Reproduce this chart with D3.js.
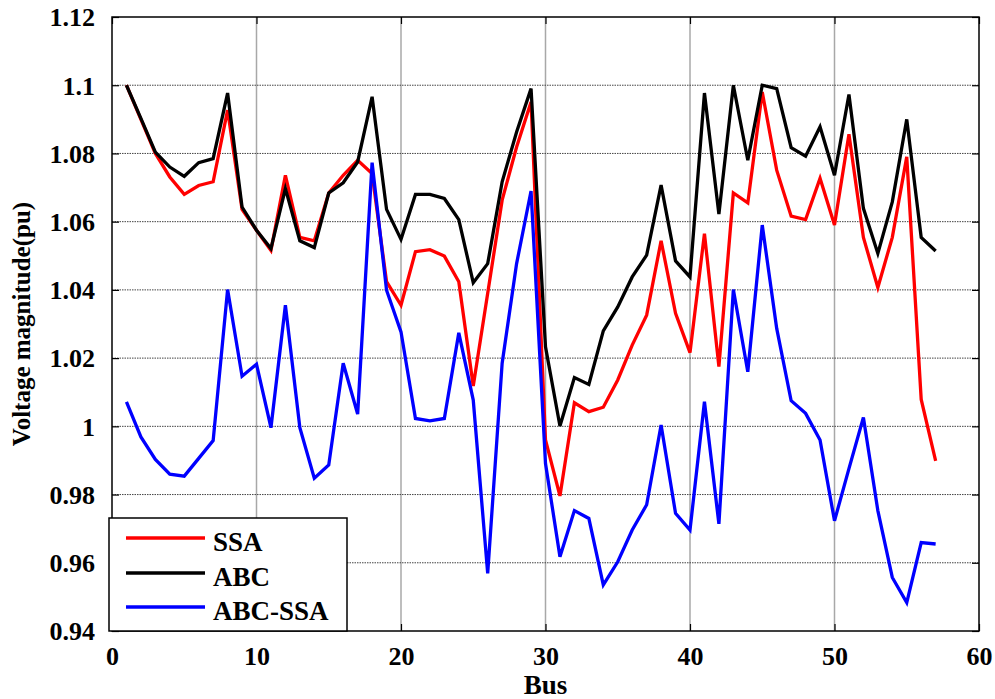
<!DOCTYPE html>
<html>
<head>
<meta charset="utf-8">
<script src="https://cdn.jsdelivr.net/npm/d3@7"></script>
<style>
  html, body { margin: 0; padding: 0; background: #fff; }
  svg { display: block; }
  text { font-family: "Liberation Serif", "Times New Roman", serif; font-weight: bold; fill: #000; }
</style>
</head>
<body>
<svg id="chart" width="995" height="699"></svg>
<script>
const buses = d3.range(1, 58);
const ssa = [1.1000,1.0900,1.0800,1.0731,1.0680,1.0706,1.0717,1.0927,1.0636,1.0575,
  1.0516,1.0736,1.0554,1.0544,1.0684,1.0736,1.0780,1.0741,1.0424,1.0355,
  1.0512,1.0518,1.0499,1.0424,1.0118,1.0390,1.0663,1.0819,1.0951,0.9960,
  0.9796,1.0069,1.0043,1.0056,1.0136,1.0238,1.0326,1.0544,1.0331,1.0216,
  1.0565,1.0175,1.0684,1.0655,1.0980,1.0751,1.0616,1.0606,1.0727,1.0590,
  1.0856,1.0554,1.0407,1.0554,1.0790,1.0079,0.9899];
const abc = [1.1000,1.0903,1.0804,1.0760,1.0733,1.0773,1.0785,1.0977,1.0643,1.0575,
  1.0521,1.0697,1.0544,1.0524,1.0684,1.0714,1.0775,1.0966,1.0636,1.0548,
  1.0680,1.0680,1.0668,1.0606,1.0421,1.0477,1.0717,1.0863,1.0990,1.0233,
  1.0001,1.0143,1.0123,1.0280,1.0350,1.0438,1.0502,1.0707,1.0485,1.0438,
  1.0977,1.0622,1.1000,1.0780,1.1000,1.0990,1.0817,1.0792,1.0878,1.0736,
  1.0973,1.0639,1.0507,1.0658,1.0900,1.0554,1.0514];
const abcSsa = [1.0072,0.9969,0.9903,0.9860,0.9854,0.9906,0.9958,1.0401,1.0147,1.0182,
  0.9996,1.0355,0.9996,0.9848,0.9887,1.0185,1.0036,1.0773,1.0399,1.0277,
  1.0023,1.0016,1.0023,1.0274,1.0077,0.9569,1.0185,1.0477,1.0690,0.9891,
  0.9618,0.9753,0.9730,0.9535,0.9603,0.9696,0.9770,1.0004,0.9745,0.9696,
  1.0072,0.9714,1.0401,1.0160,1.0590,1.0287,1.0075,1.0038,0.9960,0.9723,
  0.9876,1.0026,0.9753,0.9557,0.9483,0.9659,0.9655];
const seriesNames = ["SSA", "ABC", "ABC-SSA"];
const seriesColors = ["#ff0000", "#000000", "#0000ff"];
const xTicks = [0, 10, 20, 30, 40, 50, 60];
const yTicks = [0.94, 0.96, 0.98, 1.00, 1.02, 1.04, 1.06, 1.08, 1.10, 1.12];
const yTickLabels = ["0.94", "0.96", "0.98", "1", "1.02", "1.04", "1.06", "1.08", "1.1", "1.12"];
const xTitle = "Bus";
const yTitle = "Voltage magnitude(pu)";

const L = 112, R = 979, T = 17, B = 631;
const svg = d3.select("#chart");
const x = d3.scaleLinear().domain([0, 60]).range([L, R]);
const y = d3.scaleLinear().domain([0.94, 1.12]).range([B, T]);

// grid
const g = svg.append("g");
g.selectAll("line.vg").data(xTicks.slice(1, -1)).enter().append("line")
  .attr("x1", d => x(d)).attr("x2", d => x(d)).attr("y1", T).attr("y2", B)
  .attr("stroke", "#a8a8a8").attr("stroke-width", 1.5);
g.selectAll("line.hg").data(yTicks.slice(1, -1)).enter().append("line")
  .attr("x1", L).attr("x2", R).attr("y1", d => y(d)).attr("y2", d => y(d))
  .attr("stroke", "#444").attr("stroke-width", 1).attr("stroke-dasharray", "1.5,1");

// axes with inward ticks
const fmtY = d => yTickLabels[yTicks.findIndex(t => Math.abs(t - d) < 1e-9)];
const axL = svg.append("g").attr("transform", `translate(${L},0)`)
  .call(d3.axisLeft(y).tickValues(yTicks).tickFormat(fmtY).tickSizeInner(-7).tickSizeOuter(0).tickPadding(17));
const axR = svg.append("g").attr("transform", `translate(${R},0)`)
  .call(d3.axisRight(y).tickValues(yTicks).tickFormat("").tickSizeInner(-7).tickSizeOuter(0));
const axB = svg.append("g").attr("transform", `translate(0,${B})`)
  .call(d3.axisBottom(x).tickValues(xTicks).tickFormat(d3.format("d")).tickSizeInner(-7).tickSizeOuter(0).tickPadding(16));
const axT = svg.append("g").attr("transform", `translate(0,${T})`)
  .call(d3.axisTop(x).tickValues(xTicks).tickFormat("").tickSizeInner(-7).tickSizeOuter(0));
[axL, axR, axB, axT].forEach(a => {
  a.select(".domain").remove();
  a.selectAll(".tick line").attr("stroke", "#000").attr("stroke-width", 1.2);
  a.selectAll("text").attr("font-family", "Liberation Serif, serif").attr("font-weight", "bold")
    .attr("font-size", 26).attr("fill", "#000");
});
axL.selectAll("text").attr("dy", "0.34em");
axB.selectAll("text").attr("dy", "0.71em");

// lines
const seriesData = [ssa, abc, abcSsa];
const line = d3.line().x((d, i) => x(buses[i])).y(d => y(d));
seriesData.forEach((s, k) => {
  svg.append("path").datum(s).attr("d", line)
    .attr("fill", "none").attr("stroke", seriesColors[k]).attr("stroke-width", 3.3)
    .attr("stroke-linejoin", "miter").attr("stroke-miterlimit", 4);
});

// frame
svg.append("rect").attr("x", L).attr("y", T).attr("width", R - L).attr("height", B - T)
  .attr("fill", "none").attr("stroke", "#000").attr("stroke-width", 1.5);

// axis titles
svg.append("text").attr("x", (L + R) / 2).attr("y", 694).attr("text-anchor", "middle")
  .attr("font-size", 27).text(xTitle);
svg.append("text").attr("transform", `translate(29.5,${(T + B) / 2}) rotate(-90)`)
  .attr("text-anchor", "middle").attr("font-size", 25).text(yTitle);

// legend
const lg = svg.append("g");
lg.append("rect").attr("x", 109).attr("y", 518).attr("width", 238).attr("height", 113)
  .attr("fill", "#fff").attr("stroke", "#000").attr("stroke-width", 1.5);
const legY = [538, 573, 607];
seriesNames.forEach((n, i) => {
  lg.append("line").attr("x1", 126).attr("x2", 205).attr("y1", legY[i]).attr("y2", legY[i])
    .attr("stroke", seriesColors[i]).attr("stroke-width", 3.3);
  lg.append("text").attr("x", 213).attr("y", legY[i] + 12.5).attr("font-size", 27).text(n);
});
</script>
</body>
</html>
